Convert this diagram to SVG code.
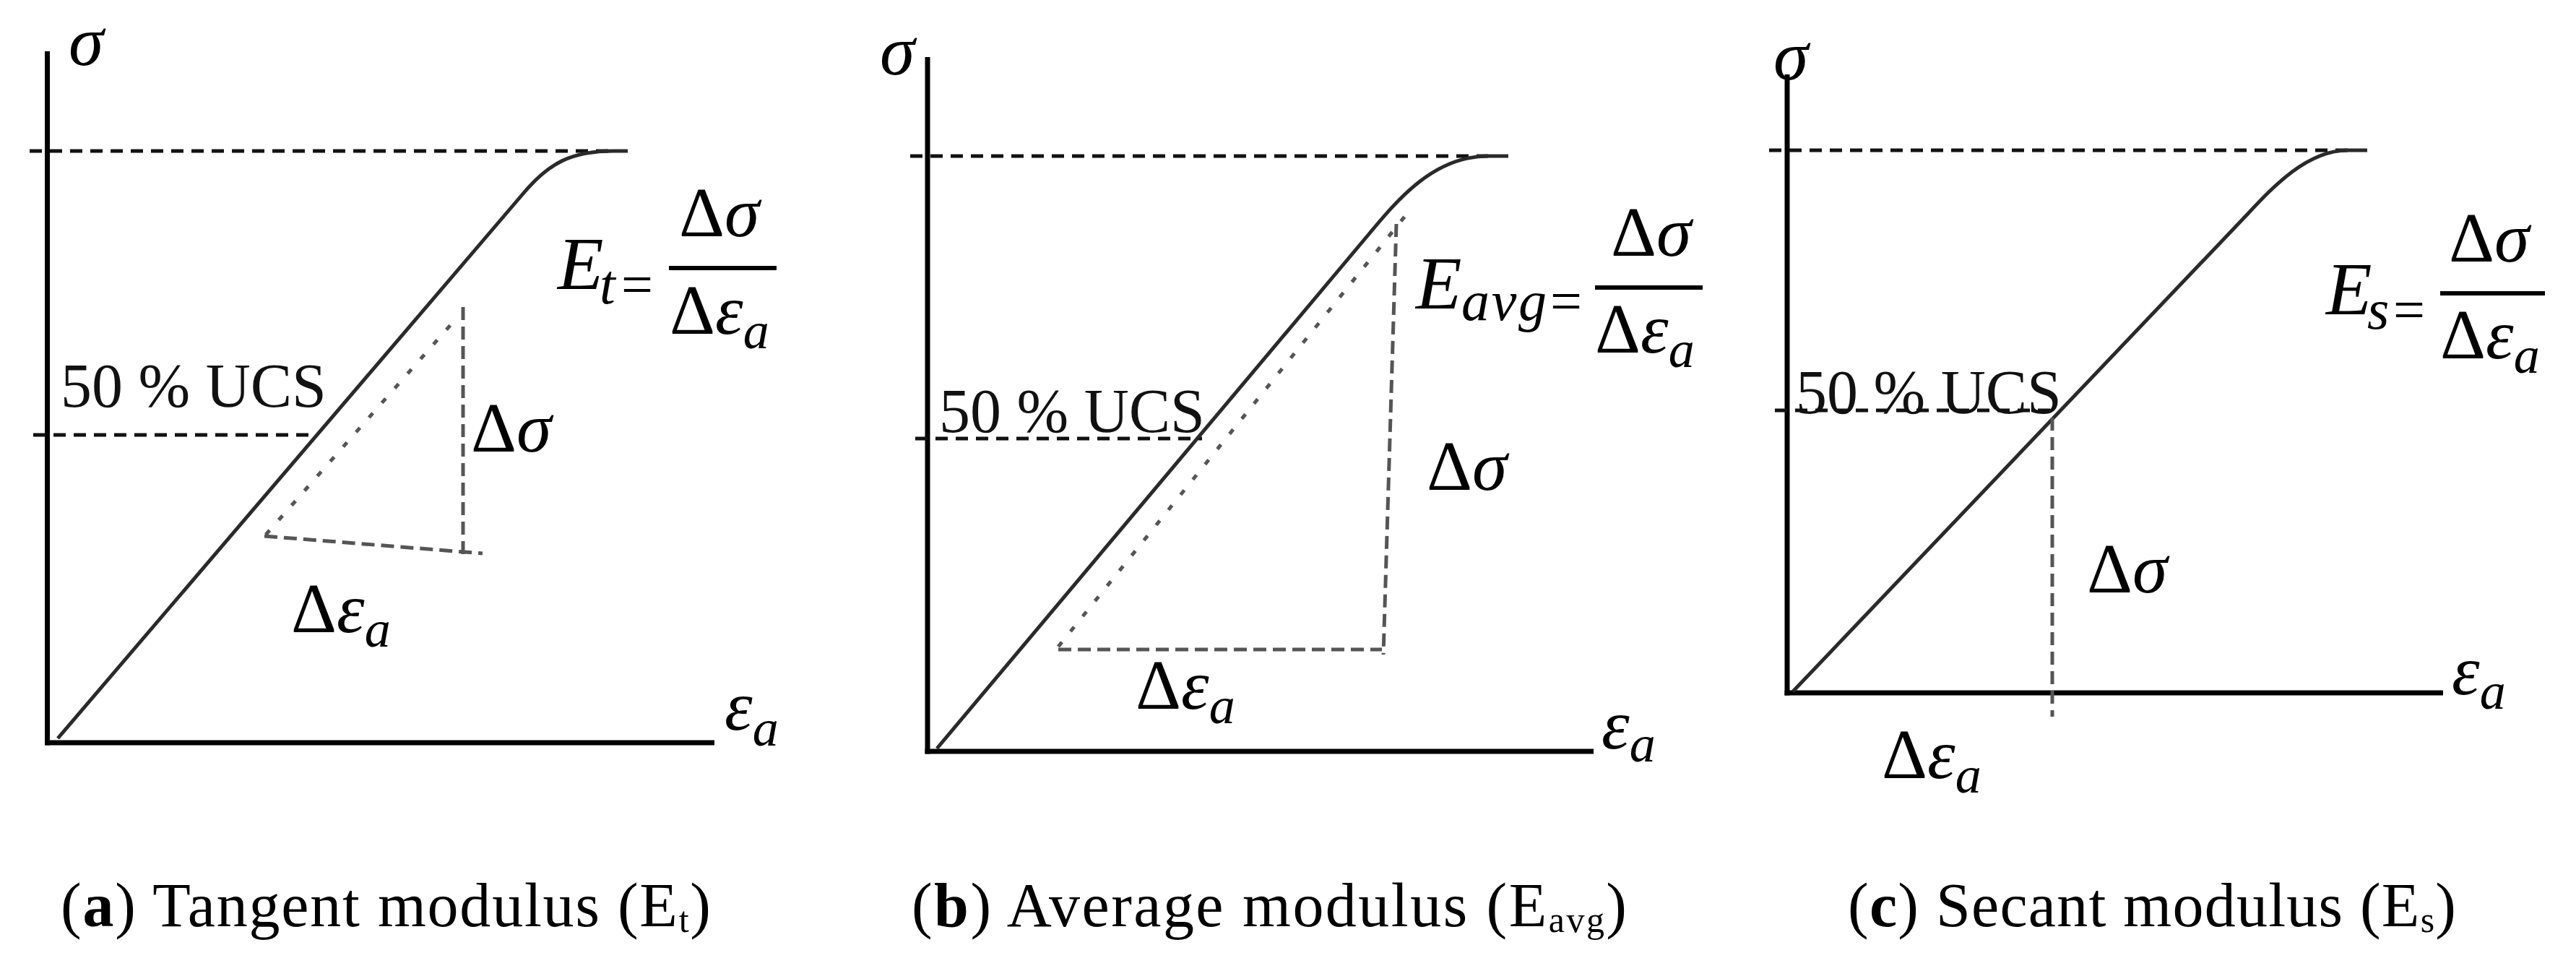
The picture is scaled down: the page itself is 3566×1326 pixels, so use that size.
<svg xmlns="http://www.w3.org/2000/svg" width="3566" height="1326" viewBox="0 0 3566 1326">
<style>
.axis{stroke:#000;stroke-width:7;fill:none}
.curve{stroke:#2a2a2a;stroke-width:5;fill:none}
.dash{stroke:#111;stroke-width:5;stroke-dasharray:17 11;fill:none}
.tri{stroke:#555;stroke-width:5;stroke-dasharray:18 9;fill:none}
.dot{stroke:#555;stroke-width:5;stroke-dasharray:8 19;fill:none}
.bar{stroke:#000;stroke-width:6}
.m{font-family:"Liberation Serif",serif;font-size:98px;fill:#000}
.e{font-size:104px}
.i{font-style:italic}
.n{font-style:normal}
.sub{font-size:72px}
.fs{font-size:78px}
.lbl{font-family:"Liberation Serif",serif;font-size:86px;fill:#111}
.cap{font-family:"Liberation Serif",serif;font-size:86px;fill:#000}
.capsub{font-size:50px}
</style>
<rect width="3566" height="1326" fill="#fff"/>

<g id="panel-a">
<line class="axis" x1="65.5" y1="71" x2="65.5" y2="1031.5"/>
<line class="axis" x1="62" y1="1028" x2="989" y2="1028"/>
<line class="dash" x1="41" y1="209" x2="850" y2="209"/>
<line class="dash" x1="46" y1="602" x2="430" y2="602"/>
<path class="curve" d="M80 1022 L725 267 C760 226 790 209 850 209 L869 209"/>
<path class="dot" d="M368 740 L635 437"/>
<path class="tri" d="M641 425 V767"/>
<path class="tri" d="M366 742 L668 766"/>
<text class="m i" x="95" y="90">σ</text>
<text class="m i" x="1003" y="1010">ε<tspan class="sub" dy="22">a</tspan></text>
<text class="lbl" x="84" y="563">50 % UCS</text>
<text class="m" x="652" y="625">Δ<tspan class="i">σ</tspan></text>
<text class="m" x="403" y="875">Δ<tspan class="i">ε</tspan><tspan class="i sub" dy="20">a</tspan></text>
<text class="m i e" x="772" y="400">E<tspan class="fs" x="830" dy="20">t</tspan><tspan class="fs n" x="860">=</tspan></text>
<line class="bar" x1="926" y1="371" x2="1075" y2="371"/>
<text class="m" x="940" y="327">Δ<tspan class="i">σ</tspan></text>
<text class="m" x="927" y="462">Δ<tspan class="i">ε</tspan><tspan class="i sub" dy="20">a</tspan></text>
</g>

<g id="panel-b">
<line class="axis" x1="1284" y1="79" x2="1284" y2="1043.5"/>
<line class="axis" x1="1280.5" y1="1040" x2="2206" y2="1040"/>
<line class="dash" x1="1260" y1="216" x2="2060" y2="216"/>
<line class="dash" x1="1267" y1="607" x2="1664" y2="607"/>
<path class="curve" d="M1297 1036 L1895 324 C1935 276 1985 216 2060 216 L2088 216"/>
<path class="dot" d="M1465 895 L1950 293"/>
<path class="tri" d="M1933 310 L1915 906"/>
<path class="tri" d="M1465 899 L1913 899"/>
<text class="m i" x="1218" y="103">σ</text>
<text class="m i" x="2217" y="1036">ε<tspan class="sub" dy="18">a</tspan></text>
<text class="lbl" x="1300" y="598">50 % UCS</text>
<text class="m" x="1975" y="678">Δ<tspan class="i">σ</tspan></text>
<text class="m" x="1572" y="981">Δ<tspan class="i">ε</tspan><tspan class="i sub" dy="20">a</tspan></text>
<text class="m i e" x="1960" y="427">E<tspan class="fs" x="2023" dy="16" textLength="118" lengthAdjust="spacing">avg</tspan><tspan class="fs n" x="2146">=</tspan></text>
<line class="bar" x1="2208" y1="398" x2="2357" y2="398"/>
<text class="m" x="2230" y="354">Δ<tspan class="i">σ</tspan></text>
<text class="m" x="2208" y="488">Δ<tspan class="i">ε</tspan><tspan class="i sub" dy="20">a</tspan></text>
</g>

<g id="panel-c">
<line class="axis" x1="2474" y1="103" x2="2474" y2="962.5"/>
<line class="axis" x1="2470.5" y1="959" x2="3382" y2="959"/>
<line class="dash" x1="2449" y1="208" x2="3250" y2="208"/>
<line class="dash" x1="2457" y1="568" x2="2849" y2="568"/>
<path class="curve" d="M2482 957 L3105 303 C3140 266 3190 208 3250 208 L3277 208"/>
<path class="tri" d="M2841 578 V992"/>
<text class="m i" x="2455" y="110">σ</text>
<text class="m i" x="3394" y="961">ε<tspan class="sub" dy="20">a</tspan></text>
<text class="lbl" x="2486" y="572">50 % UCS</text>
<text class="m" x="2889" y="820">Δ<tspan class="i">σ</tspan></text>
<text class="m" x="2605" y="1077">Δ<tspan class="i">ε</tspan><tspan class="i sub" dy="20">a</tspan></text>
<text class="m i e" x="3220" y="435">E<tspan class="fs" x="3277" dy="20">s</tspan><tspan class="fs n" x="3313">=</tspan></text>
<line class="bar" x1="3378" y1="406" x2="3523" y2="406"/>
<text class="m" x="3390" y="362">Δ<tspan class="i">σ</tspan></text>
<text class="m" x="3378" y="496">Δ<tspan class="i">ε</tspan><tspan class="i sub" dy="20">a</tspan></text>
</g>

<g id="captions">
<text class="cap" x="84" y="1282" textLength="900" lengthAdjust="spacing">(<tspan font-weight="bold">a</tspan>) Tangent modulus (E<tspan class="capsub" dy="8">t</tspan><tspan dy="-8">)</tspan></text>
<text class="cap" x="1262" y="1282" textLength="990" lengthAdjust="spacing">(<tspan font-weight="bold">b</tspan>) Average modulus (E<tspan class="capsub" dy="8">avg</tspan><tspan dy="-8">)</tspan></text>
<text class="cap" x="2558" y="1282" textLength="842" lengthAdjust="spacing">(<tspan font-weight="bold">c</tspan>) Secant modulus (E<tspan class="capsub" dy="8">s</tspan><tspan dy="-8">)</tspan></text>
</g>
</svg>
